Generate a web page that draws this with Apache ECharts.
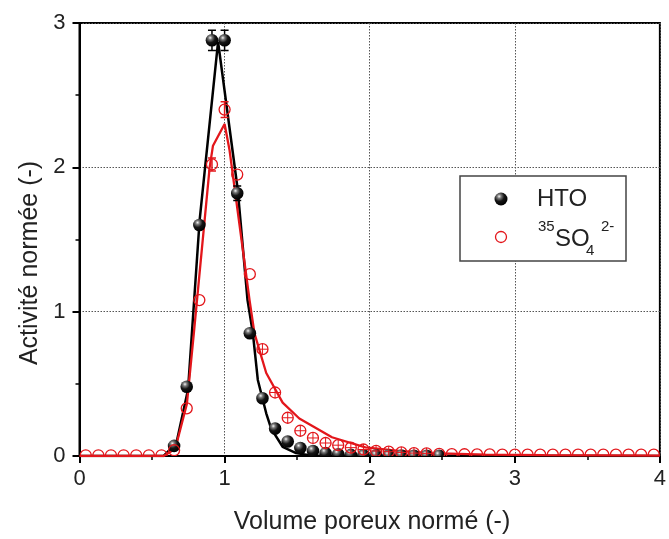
<!DOCTYPE html>
<html><head><meta charset="utf-8">
<script src="https://cdn.jsdelivr.net/npm/echarts@6/dist/echarts.min.js"></script>
<style>html,body{margin:0;padding:0;background:#fff}#c{width:669px;height:539px}</style>
</head><body><div id="c"></div>
<script>
// ---- data ----
const so4X = [0.043,0.13,0.217,0.304,0.391,0.478,0.565,0.652,0.739,0.826,0.913,1.0,1.087,1.174,1.261,1.348,1.435,1.522,1.609,1.696,1.783,1.87,1.957,2.044,2.131,2.218,2.305,2.392,2.479,2.566,2.653,2.74,2.827,2.914,3.001,3.088,3.175,3.262,3.349,3.436,3.523,3.61,3.697,3.784,3.871,3.958];
const so4Y = [0.005,0.005,0.005,0.005,0.005,0.005,0.005,0.04,0.33,1.08,2.02,2.40,1.95,1.26,0.74,0.44,0.265,0.175,0.125,0.09,0.075,0.058,0.045,0.035,0.03,0.025,0.02,0.018,0.015,0.013,0.012,0.011,0.011,0.01,0.01,0.01,0.01,0.01,0.01,0.01,0.01,0.01,0.01,0.01,0.01,0.01];
const so4Err = [0,0,0,0,0,0,0,0,0,0,0.045,0.055,0,0,0.02,0.02,0.02,0.02,0.02,0.02,0.02,0.02,0.02,0.02,0.02,0.02,0.02,0.02,0,0,0,0,0,0,0,0,0,0,0,0,0,0,0,0,0,0];
const htoX = [0.652,0.739,0.826,0.913,1.0,1.087,1.174,1.261,1.348,1.435,1.522,1.609,1.696,1.783,1.87,1.957,2.044,2.131,2.218,2.305,2.392,2.479];
const htoY = [0.07,0.48,1.60,2.88,2.88,1.82,0.85,0.40,0.19,0.10,0.055,0.035,0.02,0.012,0.008,0.005,0.004,0.003,0.003,0.002,0.002,0.002];
const htoErr = [0,0,0,0.07,0.07,0.05,0,0,0,0,0,0,0,0,0,0,0,0,0,0,0,0];
const htoFitX = [0,0.58,0.668,0.748,0.828,0.955,1.09,1.158,1.195,1.229,1.287,1.321,1.40,1.493,1.6,4];
const htoFitY = [0,0,0.09,0.46,1.635,2.87,1.85,1.08,0.85,0.527,0.296,0.19,0.064,0.02,0.003,0];
const so4FitX = [0,0.58,0.66,0.74,0.79,0.897,0.92,1.0,1.034,1.172,1.206,1.287,1.40,1.515,1.74,1.97,2.2,2.43,2.8,3.2,4];
const so4FitY = [0,0,0.05,0.36,0.87,2.0,2.15,2.30,2.12,1.08,0.85,0.575,0.37,0.26,0.13,0.06,0.035,0.02,0.01,0.006,0.003];
const xTicks = [0,1,2,3,4];
const yTicks = [0,1,2,3];
const xTitle = 'Volume poreux normé (-)';
const yTitle = 'Activité normée (-)';
const legendHTO = 'HTO';

const RED = '#e3161b';
const FONT = '"Liberation Sans", Arial, sans-serif';
function sphere(){
  return new echarts.graphic.RadialGradient(0.36,0.3,0.7,[
    {offset:0,color:'#f4f4f4'},{offset:0.22,color:'#7a7a7a'},{offset:0.55,color:'#151515'},{offset:1,color:'#000'}]);
}

const chart = echarts.init(document.getElementById('c'), null, {renderer:'canvas'});
const axisCommon = {
  type:'value', interval:1,
  axisLine:{show:true,onZero:false,lineStyle:{color:'#000',width:2}},
  axisTick:{show:true,length:7,lineStyle:{color:'#000',width:2}},
  minorTick:{show:true,splitNumber:2,length:4,lineStyle:{color:'#000',width:1.5}},
  splitLine:{show:true,lineStyle:{type:[1.5,1.5],color:'#555',width:1}},
  axisLabel:{fontSize:22,color:'#222',fontFamily:FONT}
};
function errBarItem(api, x, y, e, r, color, lw){
  const c = api.coord([x,y]);
  const out = [];
  if (e > 0) {
    const t = api.coord([x,y+e]), b = api.coord([x,y-e]);
    if (Math.abs(b[1]-t[1])/2 > r) {
      out.push({type:'line',shape:{x1:c[0],y1:t[1],x2:c[0],y2:b[1]},style:{stroke:color,lineWidth:lw}});
      out.push({type:'line',shape:{x1:c[0]-4,y1:t[1],x2:c[0]+4,y2:t[1]},style:{stroke:color,lineWidth:lw}});
      out.push({type:'line',shape:{x1:c[0]-4,y1:b[1],x2:c[0]+4,y2:b[1]},style:{stroke:color,lineWidth:lw}});
    } else {
      out.push({type:'line',shape:{x1:c[0],y1:c[1]-r,x2:c[0],y2:c[1]+r},style:{stroke:color,lineWidth:1}});
      out.push({type:'line',shape:{x1:c[0]-r,y1:c[1],x2:c[0]+r,y2:c[1]},style:{stroke:color,lineWidth:1}});
    }
  }
  return out;
}
function clipRect(params){
  const cs = params.coordSys;
  return {type:'rect',shape:{x:cs.x,y:cs.y,width:cs.width,height:cs.height}};
}
chart.setOption({
  animation:false,
  backgroundColor:'#fff',
  grid:{left:79.5,right:6.5,top:23,bottom:83,show:true,borderColor:'#000',borderWidth:2,backgroundColor:'transparent'},
  xAxis:Object.assign({},axisCommon,{min:xTicks[0],max:xTicks[xTicks.length-1],
    axisLabel:Object.assign({},axisCommon.axisLabel,{margin:12})}),
  yAxis:Object.assign({},axisCommon,{min:yTicks[0],max:yTicks[yTicks.length-1],
    axisLabel:Object.assign({},axisCommon.axisLabel,{margin:14})}),
  series:[
    {type:'line',data:htoFitX.map((x,i)=>[x,htoFitY[i]]),symbol:'none',z:2,
     lineStyle:{color:'#000',width:2.5}},
    {type:'line',data:so4FitX.map((x,i)=>[x,so4FitY[i]]),symbol:'none',z:3,
     lineStyle:{color:RED,width:2.3}},
    {type:'custom',name:'HTO',clip:true,z:4,
     data:htoX.map((x,i)=>[x,htoY[i],htoErr[i]]),
     encode:{x:0,y:1},
     renderItem:function(params,api){
       const x=api.value(0), y=api.value(1), e=api.value(2);
       const c=api.coord([x,y]);
       const ch = errBarItem(api,x,y,e,6,'#000',1.5);
       ch.push({type:'circle',shape:{cx:c[0],cy:c[1],r:6.3},style:{fill:sphere()}});
       return {type:'group',clipPath:clipRect(params),children:ch};
     }},
    {type:'custom',name:'SO4',clip:true,z:5,
     data:so4X.map((x,i)=>[x,so4Y[i],so4Err[i]]),
     encode:{x:0,y:1},
     renderItem:function(params,api){
       const x=api.value(0), y=api.value(1), e=api.value(2);
       const c=api.coord([x,y]);
       const ch = errBarItem(api,x,y,e,5.5,RED,1.5);
       ch.push({type:'circle',shape:{cx:c[0],cy:c[1],r:5.5},style:{fill:'none',stroke:RED,lineWidth:1.3}});
       return {type:'group',clipPath:clipRect(params),children:ch};
     }}
  ],
  graphic:[
    {type:'text',x:372,y:522,style:{text:xTitle,font:'25px '+FONT,fill:'#222',align:'center',verticalAlign:'middle',textAlign:'center',textVerticalAlign:'middle'}},
    {type:'text',x:30,y:263,rotation:Math.PI/2,style:{text:yTitle,font:'25px '+FONT,fill:'#222',align:'center',verticalAlign:'middle',textAlign:'center',textVerticalAlign:'middle'}},
    {type:'rect',shape:{x:460,y:176,width:166,height:85},style:{fill:'#fff',stroke:'#444',lineWidth:1.5},z:100},
    {type:'circle',shape:{cx:501,cy:199,r:6.5},style:{fill:sphere()},z:101},
    {type:'text',x:537,y:199,style:{text:legendHTO,font:'24px '+FONT,fill:'#222',verticalAlign:'middle',textVerticalAlign:'middle'},z:101},
    {type:'circle',shape:{cx:501,cy:237,r:5.5},style:{fill:'none',stroke:RED,lineWidth:1.3},z:101},
    {type:'text',x:538,y:227,style:{text:'35',font:'15px '+FONT,fill:'#222',verticalAlign:'middle',textVerticalAlign:'middle'},z:101},
    {type:'text',x:555,y:239,style:{text:'SO',font:'24px '+FONT,fill:'#222',verticalAlign:'middle',textVerticalAlign:'middle'},z:101},
    {type:'text',x:586,y:251,style:{text:'4',font:'15px '+FONT,fill:'#222',verticalAlign:'middle',textVerticalAlign:'middle'},z:101},
    {type:'text',x:601,y:227,style:{text:'2-',font:'15px '+FONT,fill:'#222',verticalAlign:'middle',textVerticalAlign:'middle'},z:101}
  ]
});
</script></body></html>
